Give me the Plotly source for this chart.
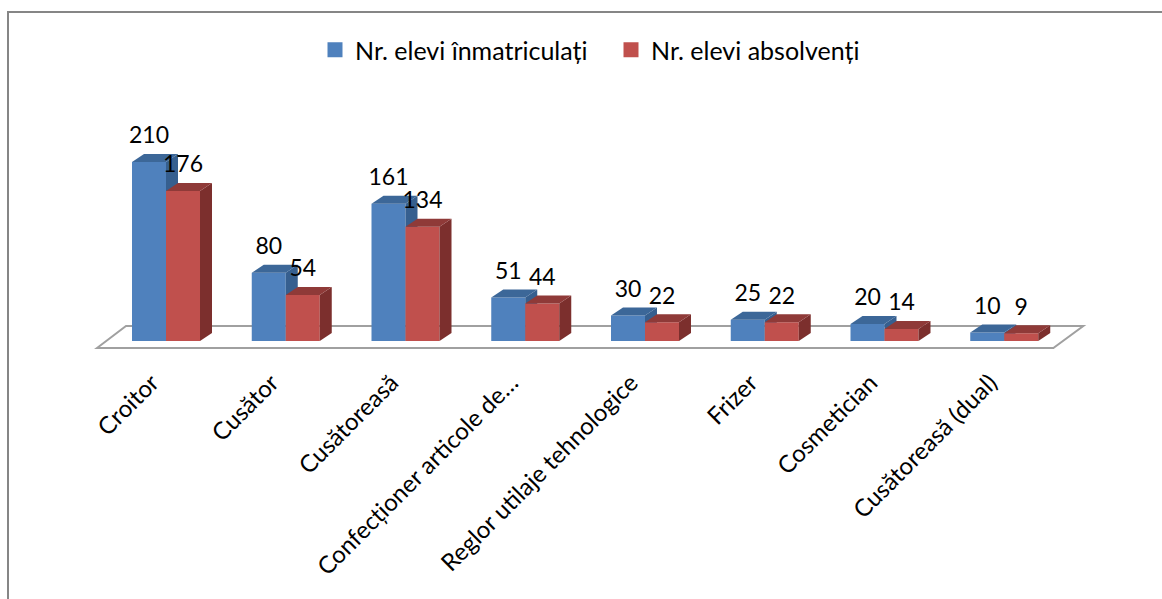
import plotly.graph_objects as go

categories = ["Croitor", "Cusător", "Cusătoreasă", "Confecționer articole de…",
              "Reglor utilaje tehnologice", "Frizer", "Cosmetician", "Cusătoreasă (dual)"]
enrolled = [210, 80, 161, 51, 30, 25, 20, 10]
graduates = [176, 54, 134, 44, 22, 22, 14, 9]
series_names = ["Nr. elevi înmatriculați", "Nr. elevi absolvenți"]

W, H = 1162, 599
X0, DX_PX = 166, 119.75
Y0, PX_PER = 341, 0.852
FONT = "Lato"
xr = [-X0 / DX_PX, (W - X0) / DX_PX]
yr = [-(H - Y0) / PX_PER, Y0 / PX_PER]
BW = 34 / DX_PX
DEPTH_X = 12 / DX_PX
DEPTH_Y = 8 / PX_PER
LABEL_UP = 24.5 / PX_PER
TICK_SHIFT = -14 / DX_PX


def faces(values, left):
    sx, sy, tx, ty = [], [], [], []
    for i, v in enumerate(values):
        l = i + left
        r = l + BW
        sx += [r, r + DEPTH_X, r + DEPTH_X, r, r, None]
        sy += [0, DEPTH_Y, v + DEPTH_Y, v, 0, None]
        tx += [l, r, r + DEPTH_X, l + DEPTH_X, l, None]
        ty += [v, v, v + DEPTH_Y, v + DEPTH_Y, v, None]
    return sx, sy, tx, ty


fig = go.Figure()


def add_series(values, left, front, side, top, xa, ya):
    sx, sy, tx, ty = faces(values, left)
    idx = list(range(len(values)))
    fig.add_trace(go.Bar(x=idx, y=values, offset=left, width=BW, marker=dict(color=front, line=dict(width=0)),
                         showlegend=False, xaxis=xa, yaxis=ya, hoverinfo="skip"))
    for fx, fy, c in ((sx, sy, side), (tx, ty, top)):
        fig.add_trace(go.Scatter(x=fx, y=fy, mode="lines", fill="toself", fillcolor=c,
                                 line=dict(width=0, color=c), showlegend=False, xaxis=xa, yaxis=ya,
                                 hoverinfo="skip"))


add_series(enrolled, -BW, "#4F81BD", "#365F8F", "#3C6798", "x", "y")
add_series(graduates, 0, "#C0504D", "#7C2F2D", "#8F3A38", "x2", "y2")

# data labels, drawn on top of every face
for values, left in ((enrolled, -BW), (graduates, 0)):
    fig.add_trace(go.Scatter(x=[i + left + BW / 2 for i in range(len(values))],
                             y=[v + LABEL_UP for v in values], mode="text",
                             text=[str(v) for v in values], textposition="middle center",
                             textfont=dict(family=FONT, size=23, color="#000000"),
                             showlegend=False, xaxis="x2", yaxis="y2", hoverinfo="skip"))

# legend entries
for name, c in zip(series_names, ("#4F81BD", "#C0504D")):
    fig.add_trace(go.Scatter(x=[None], y=[None], mode="markers", name=name,
                             marker=dict(symbol="square", size=15, color=c), xaxis="x2", yaxis="y2"))

# floor
fx = [-0.576, -0.334, 7.66, 7.41]
fy = [-8.2, 17.6]
floor = f"M{fx[0]},{fy[0]} L{fx[1]},{fy[1]} L{fx[2]},{fy[1]} L{fx[3]},{fy[0]} Z"
shapes = [
    dict(type="path", path=floor, xref="x", yref="y", layer="below",
         line=dict(color="#A0A0A0", width=2), fillcolor="white"),
    dict(type="line", xref="paper", yref="paper", x0=8 / W, x1=8 / W, y0=0, y1=1 - 12 / H,
         line=dict(color="#868686", width=2)),
    dict(type="line", xref="paper", yref="paper", x0=7 / W, x1=1, y0=1 - 12 / H, y1=1 - 12 / H,
         line=dict(color="#868686", width=2)),
]

hidden = dict(visible=False, fixedrange=True)
fig.update_layout(
    width=W, height=H, autosize=False,
    margin=dict(l=0, r=0, t=0, b=0),
    paper_bgcolor="white", plot_bgcolor="white",
    barmode="overlay",
    showlegend=True,
    legend=dict(orientation="h", x=315 / W, y=1 - 27 / H, xanchor="left", yanchor="top",
                font=dict(family=FONT, size=25, color="#000000"), bgcolor="rgba(0,0,0,0)",
                itemsizing="trace", itemwidth=30, traceorder="normal",
                entrywidthmode="pixels", entrywidth=251),
    shapes=shapes,
    xaxis=dict(range=xr, domain=[0, 1], anchor="free", position=(H - 363) / H, showline=False,
               showgrid=False, zeroline=False, ticks="", tickmode="array",
               tickvals=[i + TICK_SHIFT for i in range(len(categories))], ticktext=categories, tickangle=-45,
               tickfont=dict(family=FONT, size=24, color="#000000"), fixedrange=True),
    yaxis=dict(range=yr, domain=[0, 1], **hidden),
    xaxis2=dict(range=xr, domain=[0, 1], overlaying="x", anchor="y2", **hidden),
    yaxis2=dict(range=yr, domain=[0, 1], overlaying="y", anchor="x2", **hidden),
)

fig.write_html("out.html", config={"displayModeBar": False},
               post_script="document.body.style.margin='0';")
